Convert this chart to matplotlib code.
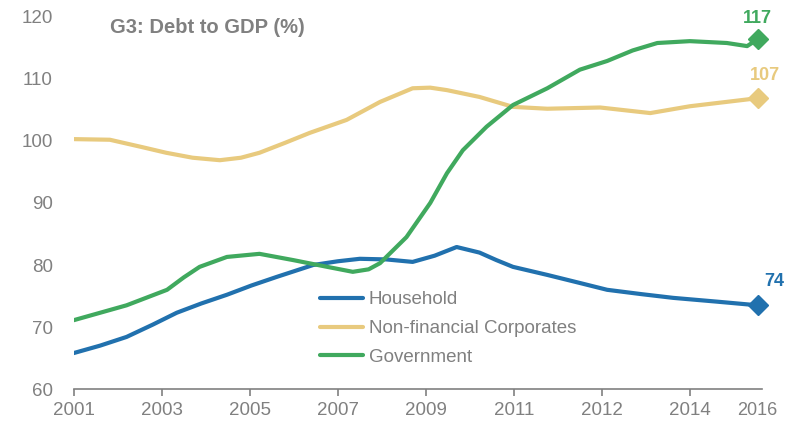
import matplotlib.pyplot as plt

# x positions are in axis-tick units (tick i = label i below)
tick_labels = ["2001", "2003", "2005", "2007", "2009", "2011", "2012", "2014"]
last_label = "2016"
last_pos = 7.77

house_x = [0, 0.30, 0.60, 0.90, 1.17, 1.45, 1.74, 2.02, 2.31, 2.72, 3.00, 3.25, 3.55,
           3.85, 4.10, 4.35, 4.61, 4.80, 4.99, 5.38, 5.75, 6.06, 6.45, 6.81, 7.30, 7.77]
house_y = [65.8, 67.0, 68.4, 70.4, 72.3, 73.8, 75.2, 76.7, 78.1, 80.0, 80.6, 81.0, 80.9,
           80.5, 81.5, 82.9, 82.0, 80.8, 79.7, 78.4, 77.1, 76.0, 75.3, 74.7, 74.1, 73.5]

corp_x = [0, 0.41, 0.78, 1.05, 1.35, 1.66, 1.90, 2.11, 2.40, 2.68, 3.10, 3.48, 3.85,
          4.05, 4.24, 4.61, 4.99, 5.38, 5.98, 6.55, 7.00, 7.77]
corp_y = [100.3, 100.2, 99.0, 98.1, 97.3, 96.9, 97.3, 98.1, 99.7, 101.3, 103.4, 106.3, 108.5,
          108.6, 108.2, 107.1, 105.5, 105.2, 105.4, 104.5, 105.6, 106.9]

gov_x = [0, 0.60, 1.06, 1.25, 1.43, 1.74, 2.11, 2.49, 2.88, 3.17, 3.35, 3.48, 3.78,
         4.05, 4.24, 4.42, 4.69, 4.99, 5.38, 5.75, 6.06, 6.35, 6.63, 7.00, 7.42, 7.65, 7.77]
gov_y = [71.1, 73.5, 76.0, 78.0, 79.7, 81.3, 81.8, 80.8, 79.7, 78.9, 79.3, 80.3, 84.5,
         90.0, 94.8, 98.5, 102.3, 105.8, 108.5, 111.5, 112.9, 114.6, 115.8, 116.1, 115.8, 115.3, 116.4]

end_labels = ["74", "107", "117"]

blue = "#2171AE"
yellow = "#E8CA7E"
green = "#40A95E"
gray = "#808080"

plt.rcParams['font.family'] = ['Liberation Sans', 'DejaVu Sans']

fig = plt.figure(figsize=(7.93, 4.24), dpi=100)
ax = fig.add_axes([0.093, 0.0825, 0.868, 0.8775])

series = [
    (house_x, house_y, blue, "Household", end_labels[0], (5, 11)),
    (corp_x, corp_y, yellow, "Non-financial Corporates", end_labels[1], (5, 10)),
    (gov_x, gov_y, green, "Government", end_labels[2], (0, 9)),
]
for xs, ys, col, name, lab, off in series:
    ax.plot(xs, ys, color=col, lw=3.0, solid_capstyle='round', solid_joinstyle='round', label=name)
    ax.plot(xs[-1], ys[-1], marker='D', color=col, ms=10.5, clip_on=False)
    ax.annotate(lab, (xs[-1], ys[-1]), xytext=off, textcoords='offset points',
                ha='left' if lab == "74" else 'center', va='bottom',
                color=col, fontsize=13, fontweight='bold', annotation_clip=False)

ax.set_xlim(0, 7.82)
ax.set_ylim(60, 120)
ax.set_yticks([60, 70, 80, 90, 100, 110, 120])
ax.set_xticks(range(len(tick_labels)), tick_labels)
ax.set_xticks([last_pos], [last_label], minor=True)

for s in ["top", "right", "left"]:
    ax.spines[s].set_visible(False)
ax.spines["bottom"].set_color(gray)
ax.spines["bottom"].set_linewidth(1.2)
ax.tick_params(axis='x', which='major', direction='out', length=5, width=1.2,
               color=gray, labelcolor=gray, labelsize=13.5, pad=4)
ax.tick_params(axis='x', which='minor', length=0, labelcolor=gray, labelsize=13, pad=9)
ax.tick_params(axis='y', length=0, labelcolor=gray, labelsize=13.5, pad=15)

fig.text(0.139, 0.935, "G3: Debt to GDP (%)", color=gray, fontsize=14.5,
         fontweight='bold', va='center', ha='left')

leg = ax.legend(loc='upper left', bbox_to_anchor=(0.392, 0.335),
                bbox_transform=fig.transFigure, frameon=False, fontsize=13.5,
                handlelength=2.3, handletextpad=0.3, labelspacing=0.62, borderpad=0)
for t in leg.get_texts():
    t.set_color(gray)

fig.savefig("out.png", dpi=100)
